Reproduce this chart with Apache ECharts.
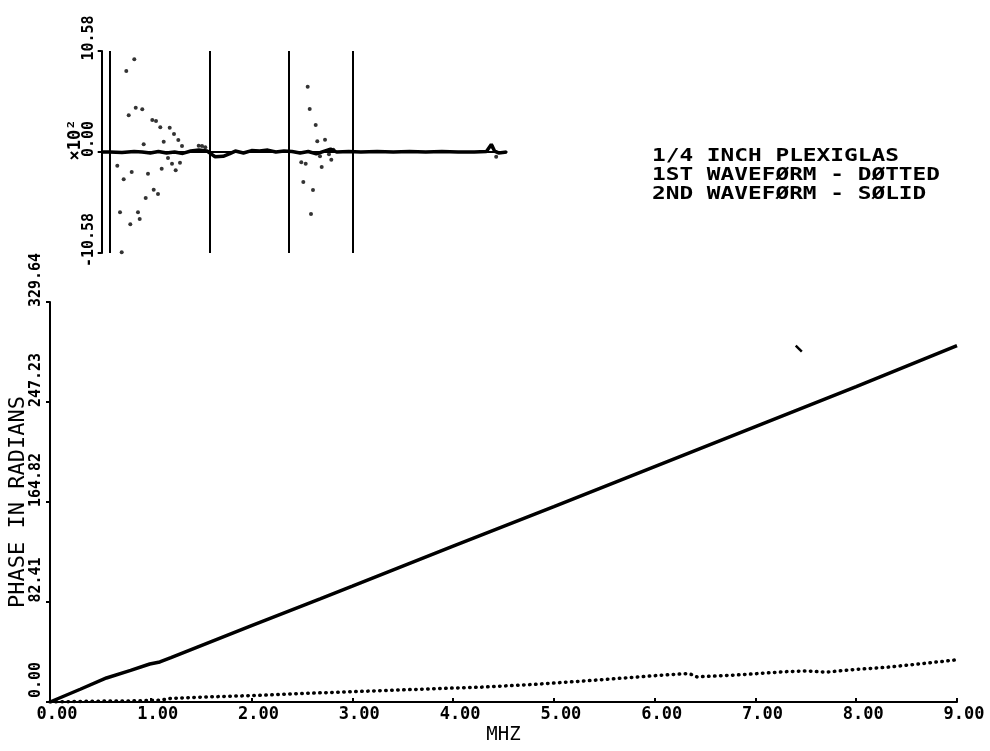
<!DOCTYPE html>
<html><head><meta charset="utf-8">
<script src="https://cdn.jsdelivr.net/npm/echarts@6/dist/echarts.min.js"></script>
<style>html,body{margin:0;padding:0;background:#fff}#c{width:990px;height:751px}</style>
</head><body><div id="c"></div>
<script>
// ---- data ----
const mhzTicks = [0, 1, 2, 3, 4, 5, 6, 7, 8, 9];
const phaseTicks = [0, 82.41, 164.82, 247.23, 329.64];
const insetTicks = [-10.58, 0, 10.58];
const insetRange = [0, 100];
const legendLines = ['1/4 INCH PLEXIGLAS', '1ST WAVEFØRM - DØTTED', '2ND WAVEFØRM - SØLID'];
const xName = 'MHZ';
const yName = 'PHASE IN RADIANS';
const insetScaleName = '×10²';

// 2nd waveform (solid) phase, [MHz, radians]
const solidPhase = [[0,0],[0.3,10.5],[0.56,19.8],[0.8,26],[0.99,31.3],[1.09,33],[1.2,36.5],[1.5,46.5],[2,63],[2.68,85],[3,95.5],[4,128.5],[5,161],[6,194],[7,227],[8,260],[9,293.6]];
// 1st waveform (dotted) phase
const dottedPhase = [[0,0],[0.3,0.5],[0.6,0.8],[0.9,1],[1.1,1.6],[1.2,3],[1.5,4],[2.08,5.5],[2.5,7],[3,8.5],[3.5,10],[4,11.5],[4.27,12.2],[4.8,14.5],[5.26,17.1],[5.59,19.1],[6.02,21.8],[6.28,23.2],[6.35,23.2],[6.42,20.7],[6.75,22],[7.0,23.3],[7.3,25],[7.5,25.6],[7.7,24.6],[7.97,26.7],[8.3,28.6],[8.63,31.4],[9.0,34.8]];
const strayMark = [[7.40,293.6],[7.46,288.7]];

// inset: time-domain waveforms (x in arbitrary units, y in x10^2)
const insetSolid = [[0,0],[2,0],[5,-0.05],[8,0.05],[10,0],[12,-0.1],[14,0.05],[16,-0.1],[18,0],[20,-0.15],[22,0.1],[24,0.2],[26,0.1],[27,-0.2],[28,-0.5],[30,-0.45],[31.5,-0.2],[33,0.1],[35,-0.1],[37,0.15],[39,0.1],[41,0.2],[43,0],[45,0.1],[47,0.05],[49,-0.1],[51,0.05],[53,-0.2],[55,0.1],[56.5,0.3],[58,0],[61,0.05],[64,0],[68,0.05],[72,0],[76,0.05],[80,0],[84,0.05],[88,0],[92,0],[95,0.05],[96.2,0.8],[97,0.1],[98,-0.1],[100,0]];
const insetDots = [[3.85,-1.44],[4.52,-6.32],[4.94,-10.5],[5.43,-2.86],[6.07,8.48],[6.67,3.84],[7.06,-7.57],[7.41,-2.10],[8.05,9.71],[8.40,4.64],[8.96,-6.32],[9.38,-7.02],[10.02,4.47],[10.37,0.81],[10.86,-4.82],[11.43,-2.27],[12.49,3.35],[12.84,-3.95],[13.41,3.25],[13.90,-4.40],[14.47,2.59],[14.81,-1.75],[15.31,1.08],[16.37,-0.63],[16.79,2.55],[17.36,-1.23],[17.85,1.89],[18.27,-1.92],[18.91,1.26],[19.33,-1.12],[19.83,0.63],[23.95,0.66],[24.77,0.63],[25.58,0.49],
  [49.28,-1.08],[49.78,-3.14],[50.37,-1.23],[50.86,6.84],[51.36,4.50],[51.68,-6.49],[52.17,-3.98],[52.84,2.83],[53.23,1.12],[53.90,-0.45],[54.32,-1.57],[55.14,1.29],[56.12,-0.24],[56.69,-0.81],[57.19,0.24],[96.4,0.56],[97.4,-0.49]];
const insetMarkers = [2.05, 26.6, 46.2, 62.0];

// ---- chart ----
const FONT = 'DejaVu Sans Mono';
const chart = echarts.init(document.getElementById('c'), null, {renderer: 'canvas'});
const fmt2 = v => Number(v).toFixed(2);
const blackLine = {color: '#000', width: 2};

chart.setOption({
  backgroundColor: '#fff',
  animation: false,
  grid: [
    {left: 50, top: 302, right: 33, bottom: 49, containLabel: false, outerBoundsMode: 'none'},
    {left: 101.7, top: 51, width: 405, height: 202, containLabel: false, outerBoundsMode: 'none'}
  ],
  xAxis: [
    {
      gridIndex: 0, type: 'value',
      min: mhzTicks[0], max: mhzTicks[mhzTicks.length - 1], interval: mhzTicks[1] - mhzTicks[0],
      name: xName, nameLocation: 'middle', nameGap: 24, nameMoveOverlap: false,
      nameTextStyle: {fontFamily: FONT, fontSize: 19, color: '#000'},
      axisLine: {show: true, onZero: false, lineStyle: blackLine},
      axisTick: {show: true, inside: true, length: 4, lineStyle: blackLine},
      axisLabel: {formatter: fmt2, fontFamily: FONT, fontWeight: 'bold', fontSize: 17, color: '#000', margin: 4, padding: [0, 0, 0, 14]},
      splitLine: {show: false}
    },
    {
      gridIndex: 1, type: 'value', min: insetRange[0], max: insetRange[1],
      axisLine: {show: true, onZero: true, lineStyle: blackLine},
      axisTick: {show: false}, axisLabel: {show: false}, splitLine: {show: false}
    }
  ],
  yAxis: [
    {
      gridIndex: 0, type: 'value',
      min: phaseTicks[0], max: phaseTicks[phaseTicks.length - 1], interval: phaseTicks[1] - phaseTicks[0],
      name: yName, nameLocation: 'middle', nameRotate: 90, nameGap: 21, nameMoveOverlap: false,
      nameTextStyle: {fontFamily: FONT, fontSize: 22, color: '#000'},
      axisLine: {show: true, onZero: false, lineStyle: blackLine},
      axisTick: {show: true, inside: false, length: 4, lineStyle: blackLine},
      axisLabel: {formatter: fmt2, rotate: 90, align: 'center', verticalAlign: 'bottom', padding: [0, 0, 0, 44], margin: 6, fontFamily: FONT, fontWeight: 'bold', fontSize: 15, color: '#000'},
      splitLine: {show: false}
    },
    {
      gridIndex: 1, type: 'value',
      min: insetTicks[0], max: insetTicks[insetTicks.length - 1], interval: insetTicks[1] - insetTicks[0],
      name: insetScaleName, nameLocation: 'middle', nameRotate: 90, nameGap: 18, nameMoveOverlap: false,
      nameTextStyle: {fontFamily: FONT, fontWeight: 'bold', fontSize: 17, color: '#000', padding: [0, 0, 0, 24]},
      axisLine: {show: true, onZero: false, lineStyle: blackLine},
      axisTick: {show: true, inside: false, length: 4, lineStyle: blackLine},
      axisLabel: {formatter: fmt2, rotate: 90, align: 'center', verticalAlign: 'bottom', padding: [0, 0, 0, 26], margin: 5, fontFamily: FONT, fontWeight: 'bold', fontSize: 15, color: '#000'},
      splitLine: {show: false}
    }
  ],
  series: [
    {
      type: 'line', xAxisIndex: 0, yAxisIndex: 0, data: dottedPhase, showSymbol: false, smooth: false,
      lineStyle: {color: '#000', width: 3.5, type: [0.5, 5.5], cap: 'round'}, z: 3
    },
    {
      type: 'line', xAxisIndex: 0, yAxisIndex: 0, data: solidPhase, showSymbol: false,
      lineStyle: {color: '#000', width: 3.5}, z: 4
    },
    {
      type: 'line', xAxisIndex: 0, yAxisIndex: 0, data: strayMark, showSymbol: false,
      lineStyle: {color: '#000', width: 2.5}
    },
    {
      type: 'line', xAxisIndex: 1, yAxisIndex: 1, data: insetSolid, showSymbol: false,
      lineStyle: {color: '#000', width: 3.5},
      markLine: {
        silent: true, symbol: ['none', 'none'], label: {show: false},
        lineStyle: {color: '#000', width: 2, type: 'solid'},
        data: insetMarkers.map(v => ({xAxis: v}))
      }
    },
    {
      type: 'scatter', xAxisIndex: 1, yAxisIndex: 1, data: insetDots,
      symbol: 'circle', symbolSize: 4, itemStyle: {color: '#000'}
    }
  ],
  graphic: legendLines.map((t, i) => ({
    type: 'text', x: 652, y: 157 + i * 19, scaleX: 1.34,
    style: {text: t, fontFamily: FONT, fontWeight: 'bold', fontSize: 17, fill: '#000', verticalAlign: 'middle', align: 'left'}
  }))
});
</script>
</body></html>
